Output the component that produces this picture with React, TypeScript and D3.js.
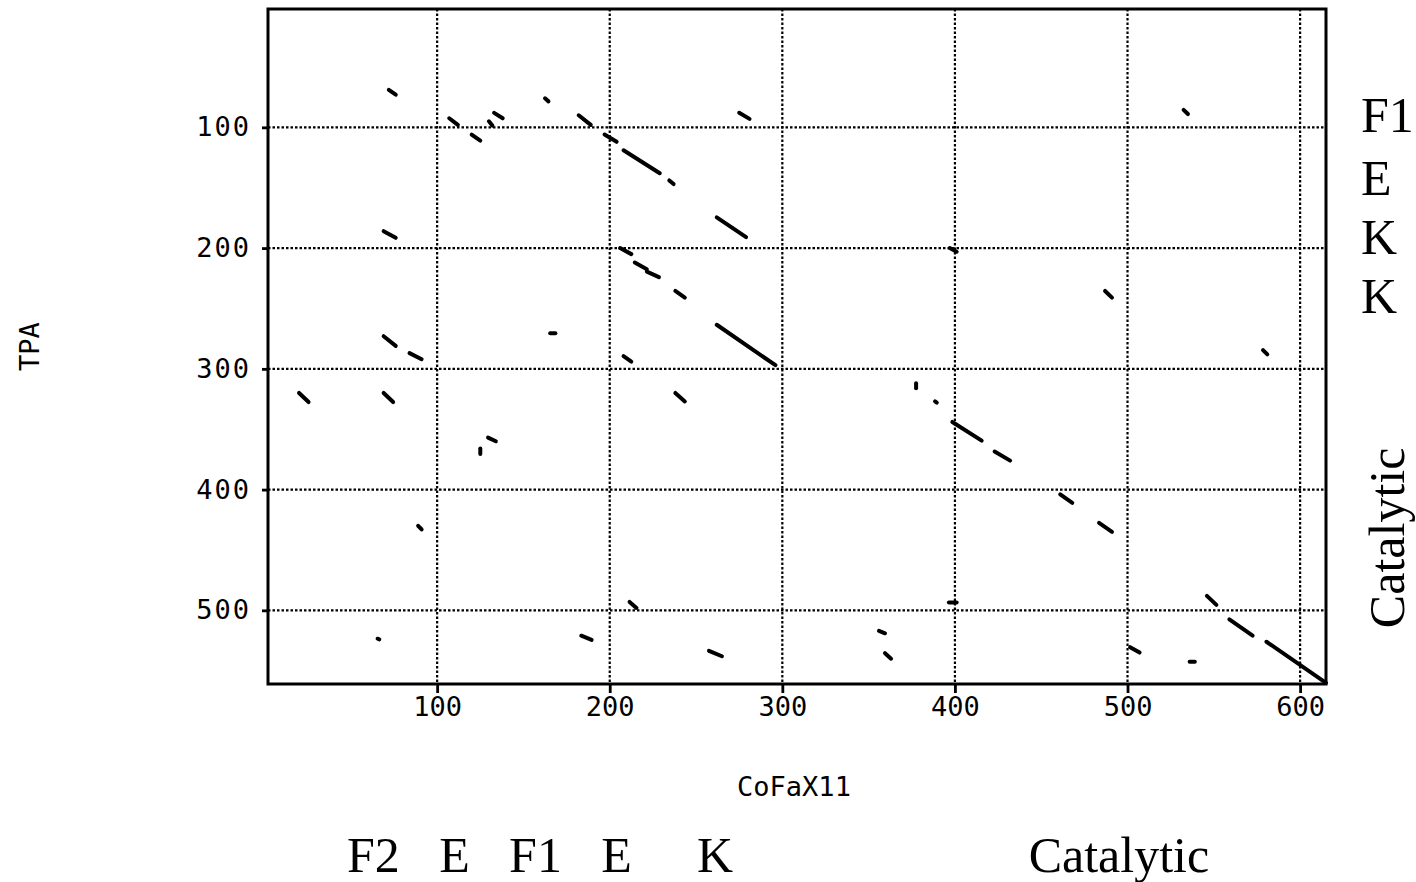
import { useEffect, useRef } from 'react'
import * as d3 from 'd3'

const xTicks = [100, 200, 300, 400, 500, 600]
const yTicks = [100, 200, 300, 400, 500]

// dot plot hits, [x1, y1, x2, y2] in residue numbers (CoFaX11 vs TPA)
const hits = [
  [72, 69, 76, 73],
  [107, 92.5, 112, 98],
  [120, 106, 125, 111],
  [130, 95, 132, 98.5],
  [133, 88, 138, 92.5],
  [162.5, 76, 164.5, 78.5],
  [182, 90, 189, 98],
  [197, 106, 204, 112],
  [208, 119, 229, 138],
  [234.5, 144, 237, 147],
  [262, 174.5, 279, 191],
  [275, 88, 281, 93],
  [532.5, 85.5, 535, 89],
  [69, 186, 76, 191.5],
  [69, 273, 76, 281],
  [84, 287, 91, 292],
  [20, 320, 25.5, 327.5],
  [69, 320, 74.5, 327.5],
  [165.5, 270.5, 168.5, 270.5],
  [129.5, 357, 134, 360],
  [125, 366, 125, 370.5],
  [206, 200, 212.5, 205],
  [214.5, 212, 221.5, 217.5],
  [221.5, 219.5, 228.5, 224],
  [238, 235.5, 243.5, 241],
  [262, 263.5, 296, 297],
  [208, 289.5, 212.5, 294],
  [238, 320, 243.5, 327],
  [377.5, 312, 377.5, 316],
  [388.5, 327, 389.5, 328],
  [397, 200, 401, 203],
  [487, 235.5, 491, 241],
  [578.5, 284.5, 581, 288],
  [398.5, 344, 415.5, 359.5],
  [423, 368.5, 432, 376],
  [89, 430, 91, 433],
  [65.5, 523.5, 66.5, 524],
  [183.5, 521, 189.5, 524.5],
  [211.5, 493, 215.5, 498],
  [257.5, 533.5, 265, 538],
  [356, 517, 359.5, 519],
  [359.5, 535.5, 363, 540],
  [396.5, 493.5, 401, 493.5],
  [461, 404, 468, 411],
  [483.5, 427.5, 491, 435],
  [546, 488, 551.5, 495.5],
  [559, 507.5, 572.5, 521],
  [580.5, 526, 615, 560],
  [501.5, 530.5, 507, 535],
  [536, 542.5, 539, 542.5],
]

// domain annotations along each sequence
const xDomainNames = ['F2', 'E', 'F1', 'E', 'K', 'Catalytic']
const xDomainPos = [63, 110, 157, 204, 261, 495]
const yDomainNames = ['F1', 'E', 'K', 'K']
const yDomainPos = [90, 142, 191, 240]
const yCatalyticPos = 440

export default function App() {
  const ref = useRef(null)

  useEffect(() => {
    document.body.style.margin = '0'
    const width = 1416
    const height = 882
    const margin = { top: 9, right: 90, bottom: 198, left: 268 }
    const mono = 'DejaVu Sans Mono'
    const serif = 'Liberation Serif'

    d3.select(ref.current).selectAll('*').remove()

    const svg = d3.select(ref.current)
      .append('svg')
      .attr('width', width)
      .attr('height', height)
      .style('display', 'block')
      .style('background', '#fff')

    const x = d3.scaleLinear()
      .domain([2, 615])
      .range([margin.left, width - margin.right])

    const y = d3.scaleLinear()
      .domain([2, 561])
      .range([margin.top, height - margin.bottom])

    // grid
    const grid = svg.append('g')
      .attr('stroke', '#000')
      .attr('stroke-width', 2.2)
      .attr('stroke-dasharray', '2.5,2')

    grid.selectAll('.gx')
      .data(xTicks)
      .join('line')
      .attr('x1', d => x(d))
      .attr('x2', d => x(d))
      .attr('y1', y.range()[0])
      .attr('y2', y.range()[1])

    grid.selectAll('.gy')
      .data(yTicks)
      .join('line')
      .attr('y1', d => y(d))
      .attr('y2', d => y(d))
      .attr('x1', x.range()[0])
      .attr('x2', x.range()[1])

    // x axis
    svg.append('g')
      .attr('transform', `translate(0,${y.range()[1]})`)
      .call(d3.axisBottom(x).tickValues(xTicks).tickSize(9).tickPadding(4))
      .call(g => g.select('.domain').remove())
      .call(g => g.selectAll('line').attr('stroke-width', 2.8))
      .selectAll('text')
      .style('font-family', mono)
      .style('font-size', '27px')
      .style('fill', '#000')

    // y axis
    svg.append('g')
      .attr('transform', `translate(${x.range()[0]},0)`)
      .call(d3.axisLeft(y).tickValues(yTicks).tickSize(6).tickPadding(11))
      .call(g => g.select('.domain').remove())
      .call(g => g.selectAll('line').attr('stroke-width', 2.8))
      .selectAll('text')
      .style('font-family', mono)
      .style('font-size', '27px')
      .style('letter-spacing', '2px')
      .style('fill', '#000')

    // hits
    svg.append('g')
      .selectAll('line')
      .data(hits)
      .join('line')
      .attr('x1', d => x(d[0]))
      .attr('y1', d => y(d[1]))
      .attr('x2', d => x(d[2]))
      .attr('y2', d => y(d[3]))
      .attr('stroke', '#000')
      .attr('stroke-width', 4)
      .attr('stroke-linecap', 'round')

    // frame
    svg.append('rect')
      .attr('x', x.range()[0])
      .attr('y', y.range()[0])
      .attr('width', x.range()[1] - x.range()[0])
      .attr('height', y.range()[1] - y.range()[0])
      .attr('fill', 'none')
      .attr('stroke', '#000')
      .attr('stroke-width', 3)

    // axis titles
    svg.append('text')
      .attr('x', (x.range()[0] + x.range()[1]) / 2 - 3)
      .attr('y', 796)
      .attr('text-anchor', 'middle')
      .style('font-family', mono)
      .style('font-size', '27px')
      .text('CoFaX11')

    svg.append('text')
      .attr('transform', `translate(39,${(y.range()[0] + y.range()[1]) / 2}) rotate(-90)`)
      .attr('text-anchor', 'middle')
      .style('font-family', mono)
      .style('font-size', '27px')
      .text('TPA')

    // domain labels
    svg.append('g')
      .selectAll('text')
      .data(xDomainNames)
      .join('text')
      .attr('x', (d, i) => x(xDomainPos[i]))
      .attr('y', 872)
      .attr('text-anchor', 'middle')
      .style('font-family', serif)
      .style('font-size', '50px')
      .text(d => d)

    svg.append('g')
      .selectAll('text')
      .data(yDomainNames)
      .join('text')
      .attr('x', 1361)
      .attr('y', (d, i) => y(yDomainPos[i]) + 17)
      .style('font-family', serif)
      .style('font-size', '50px')
      .text(d => d)

    svg.append('text')
      .attr('transform', `translate(1404,${y(yCatalyticPos)}) rotate(-90)`)
      .attr('text-anchor', 'middle')
      .style('font-family', serif)
      .style('font-size', '50px')
      .text('Catalytic')
  }, [])

  return <div ref={ref} />
}
